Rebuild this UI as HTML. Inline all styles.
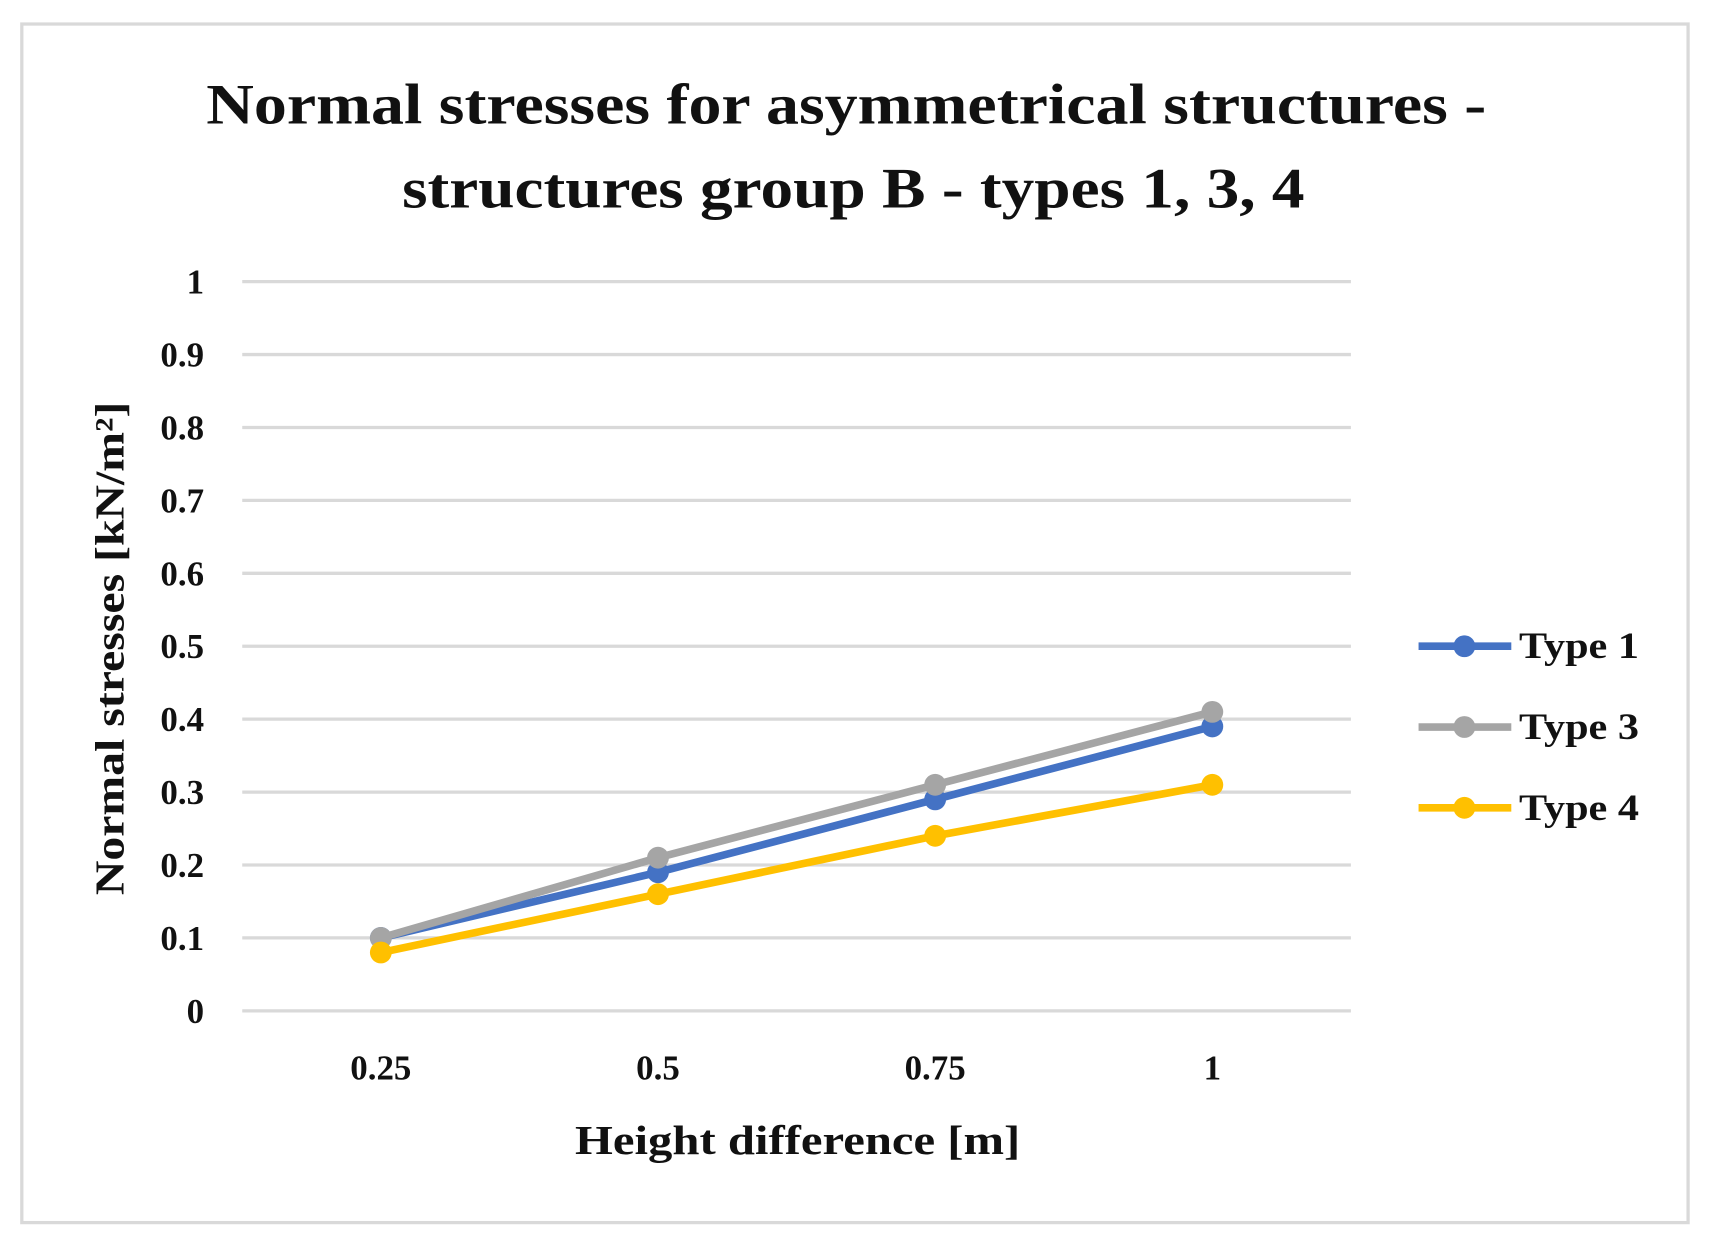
<!DOCTYPE html>
<html><head><meta charset="utf-8"><style>
html,body{margin:0;padding:0;background:#fff;}
svg{display:block;font-family:"Liberation Serif",serif;font-weight:bold;}
</style></head><body>
<svg id="chart" width="1711" height="1251" viewBox="0 0 1568 1146" preserveAspectRatio="none" xmlns="http://www.w3.org/2000/svg">
<rect x="20" y="22" width="1527" height="1098" fill="#fff" stroke="#d9d9d9" stroke-width="3"/>
<text text-anchor="middle" font-size="52" fill="#111">
<tspan x="782" y="113" textLength="1173" lengthAdjust="spacingAndGlyphs">Normal stresses  for asymmetrical structures -</tspan>
<tspan x="782" y="190" textLength="827" lengthAdjust="spacingAndGlyphs">structures group B - types 1, 3, 4</tspan></text>
<g id="grid"></g><g id="yticks"></g><g id="xticks"></g><g id="series"></g>
<text x="731" y="1057" text-anchor="middle" font-size="38" fill="#111" textLength="408" lengthAdjust="spacingAndGlyphs">Height difference [m]</text>
<text transform="translate(113,594) rotate(-90)" text-anchor="middle" font-size="38" fill="#111" textLength="452" lengthAdjust="spacingAndGlyphs">Normal stresses [kN/m²]</text>
<g id="legend"></g>
</svg>
<script>
const categories=["0.25","0.5","0.75","1"];
const type1=[0.10,0.19,0.29,0.39];
const type3=[0.10,0.21,0.31,0.41];
const type4=[0.08,0.16,0.24,0.31];
const yTickLabels=["0","0.1","0.2","0.3","0.4","0.5","0.6","0.7","0.8","0.9","1"];
const seriesNames=["Type 1","Type 3","Type 4"];
const NS="http://www.w3.org/2000/svg";
const X0=222,X1=1238,Y0=926,Y1=258;
function xs(i){return X0+(X1-X0)*(i+0.5)/categories.length;}
function ys(v){return Y0-(Y0-Y1)*v/1;}
function mk(t,a,p){const e=document.createElementNS(NS,t);for(const k in a)e.setAttribute(k,a[k]);p.appendChild(e);return e;}
const grid=document.getElementById('grid'),yt=document.getElementById('yticks'),xt=document.getElementById('xticks');
yTickLabels.forEach(l=>{const v=parseFloat(l);
 const g=mk('line',{x1:X0,x2:X1,y1:ys(v),y2:ys(v),stroke:'#d9d9d9','stroke-width':3},grid);
 
 
 const t=mk('text',{x:187,y:ys(v)+11,'text-anchor':'end','font-size':32,fill:'#111'},yt);t.textContent=l;
 
 
});
categories.forEach((c,i)=>{const t=mk('text',{x:xs(i),y:989,'text-anchor':'middle','font-size':32,fill:'#111'},xt);t.textContent=c;
 
 
});
const sdata=[type1,type3,type4],cols=["#4472C4","#A5A5A5","#FFC000"];
const sg=document.getElementById('series'),lg=document.getElementById('legend');
sdata.forEach((d,k)=>{
 const g=mk('g',{},sg);
 
 
 const pl=mk('polyline',{points:d.map((v,i)=>xs(i)+','+ys(v)).join(' '),fill:'none',stroke:cols[k],'stroke-width':7,'stroke-linejoin':'round'},g);
 
 
 d.forEach((v,i)=>{const c=mk('circle',{cx:xs(i),cy:ys(v),r:10,fill:cols[k]},g);
  
  });
 const ly=592+74*k;
 const le=mk('g',{},lg);
 
 
 mk('line',{x1:1300,x2:1385,y1:ly,y2:ly,stroke:cols[k],'stroke-width':7},le);
 mk('circle',{cx:1342,cy:ly,r:10,fill:cols[k]},le);
 const t=mk('text',{x:1392,y:ly+11,'font-size':34,fill:'#111',textLength:110,lengthAdjust:'spacingAndGlyphs'},le);t.textContent=seriesNames[k];
});
</script>
</body></html>
